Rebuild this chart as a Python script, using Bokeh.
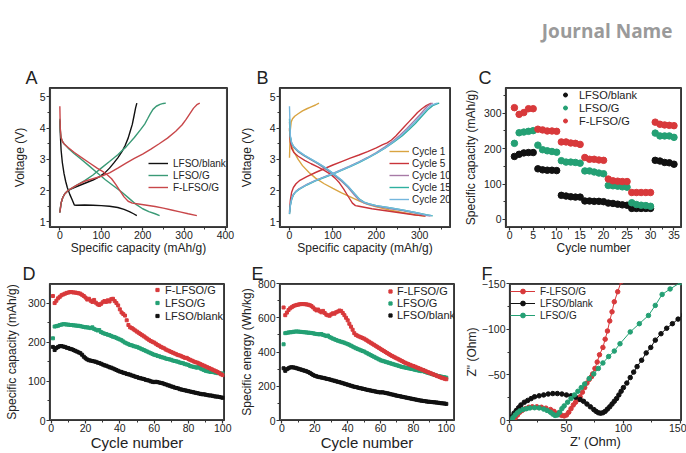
from bokeh.plotting import figure
from bokeh.layouts import column, row
from bokeh.models import Range1d, Legend, LegendItem, Label, FixedTicker
from bokeh.embed import file_html
from bokeh.resources import INLINE

# ---------------- DATA ----------------
# Panel A: charge / discharge profiles (capacity mAh/g, voltage V)
blank_dis_x = [0, 1, 3, 6, 10, 14, 18, 24, 30, 35, 40, 60, 80, 100, 120, 140, 155, 168, 178, 186]
blank_dis_y = [4.25, 3.85, 3.3, 2.9, 2.55, 2.3, 2.1, 1.88, 1.7, 1.54, 1.53, 1.54, 1.53, 1.52, 1.5, 1.46, 1.4, 1.33, 1.26, 1.2]
blank_chg_x = [0, 3, 7, 12, 18, 25, 35, 50, 65, 80, 95, 108, 120, 130, 140, 150, 158, 165, 170, 175, 179, 183, 186]
blank_chg_y = [1.3, 1.6, 1.78, 1.9, 1.98, 2.04, 2.1, 2.18, 2.26, 2.34, 2.44, 2.56, 2.72, 2.88, 3.05, 3.25, 3.45, 3.68, 3.9, 4.12, 4.38, 4.65, 4.8]
g_dis_x = [0, 1, 3, 6, 10, 20, 35, 50, 70, 90, 110, 130, 150, 170, 185, 200, 215, 230, 241]
g_dis_y = [4.3, 3.95, 3.7, 3.58, 3.5, 3.36, 3.18, 3.02, 2.8, 2.57, 2.35, 2.15, 1.95, 1.72, 1.55, 1.42, 1.33, 1.26, 1.2]
g_chg_x = [0, 3, 7, 12, 18, 25, 40, 60, 80, 100, 120, 140, 160, 180, 195, 205, 212, 218, 225, 233, 242, 250, 256]
g_chg_y = [1.3, 1.6, 1.78, 1.9, 1.98, 2.05, 2.17, 2.32, 2.5, 2.72, 2.93, 3.15, 3.4, 3.7, 3.95, 4.13, 4.3, 4.45, 4.6, 4.7, 4.76, 4.79, 4.8]
r_dis_x = [0, 1, 3, 6, 10, 20, 35, 50, 70, 90, 105, 115, 125, 135, 145, 155, 165, 175, 190, 210, 230, 250, 270, 290, 310, 331]
r_dis_y = [4.7, 4.0, 3.7, 3.58, 3.5, 3.38, 3.22, 3.08, 2.9, 2.72, 2.6, 2.5, 2.38, 2.2, 2.0, 1.8, 1.66, 1.6, 1.57, 1.53, 1.49, 1.44, 1.38, 1.32, 1.26, 1.2]
r_chg_x = [0, 3, 7, 12, 18, 25, 40, 60, 80, 100, 120, 140, 160, 180, 200, 220, 240, 260, 280, 295, 305, 315, 323, 331, 338]
r_chg_y = [1.3, 1.6, 1.78, 1.9, 1.98, 2.05, 2.17, 2.3, 2.38, 2.46, 2.57, 2.72, 2.88, 3.03, 3.17, 3.33, 3.5, 3.68, 3.9, 4.1, 4.28, 4.48, 4.64, 4.75, 4.8]

# Panel B: F-LFSO/G at different cycles
c1_chg_x = [0, 1, 2, 4, 7, 12, 20, 30, 40, 50, 60, 68]
c1_chg_y = [3.05, 3.5, 3.95, 4.2, 4.3, 4.38, 4.46, 4.55, 4.62, 4.68, 4.74, 4.8]
c1_dis_x = [0, 2, 5, 10, 20, 30, 45, 60, 80, 100, 120, 140, 160, 180, 200, 230, 260, 290, 312]
c1_dis_y = [3.95, 3.6, 3.42, 3.25, 3.0, 2.8, 2.58, 2.4, 2.22, 2.07, 1.93, 1.8, 1.67, 1.56, 1.48, 1.38, 1.3, 1.23, 1.18]
c5_dis_x = [0, 2, 5, 10, 20, 35, 50, 65, 80, 95, 105, 115, 125, 135, 145, 152, 160, 175, 190, 210, 230, 250, 270, 290, 305, 314]
c5_dis_y = [4.0, 3.55, 3.35, 3.22, 3.1, 2.97, 2.86, 2.76, 2.65, 2.52, 2.4, 2.25, 2.05, 1.82, 1.6, 1.52, 1.5, 1.46, 1.42, 1.38, 1.34, 1.3, 1.26, 1.22, 1.2, 1.19]
c5_chg_x = [0, 2, 5, 9, 15, 24, 40, 60, 80, 100, 120, 140, 160, 180, 200, 215, 225, 235, 245, 255, 265, 275, 285, 295, 305, 315, 322, 327]
c5_chg_y = [1.32, 1.7, 1.95, 2.1, 2.22, 2.33, 2.45, 2.58, 2.7, 2.82, 2.93, 3.04, 3.14, 3.25, 3.37, 3.47, 3.53, 3.62, 3.75, 3.9, 4.05, 4.2, 4.35, 4.5, 4.62, 4.72, 4.77, 4.8]
c10_dis_x = [0, 2, 5, 10, 20, 35, 50, 65, 80, 100, 120, 135, 150, 160, 170, 180, 200, 230, 260, 290, 310, 325]
c10_dis_y = [4.2, 3.7, 3.5, 3.38, 3.24, 3.1, 2.98, 2.86, 2.72, 2.52, 2.3, 2.1, 1.85, 1.7, 1.62, 1.57, 1.5, 1.43, 1.36, 1.28, 1.22, 1.19]
c10_chg_x = [0, 2, 5, 9, 14, 22, 40, 60, 80, 100, 120, 140, 160, 180, 200, 220, 240, 255, 270, 285, 300, 310, 318, 325, 330]
c10_chg_y = [1.27, 1.55, 1.75, 1.88, 1.97, 2.06, 2.2, 2.33, 2.44, 2.55, 2.67, 2.79, 2.92, 3.06, 3.22, 3.4, 3.6, 3.78, 3.98, 4.2, 4.42, 4.58, 4.7, 4.77, 4.8]
c15_dis_x = [0, 2, 5, 10, 20, 35, 50, 65, 80, 100, 120, 135, 150, 162, 172, 182, 200, 230, 260, 290, 315, 330]
c15_dis_y = [4.3, 3.72, 3.52, 3.4, 3.26, 3.12, 3.0, 2.88, 2.75, 2.55, 2.33, 2.13, 1.9, 1.72, 1.63, 1.58, 1.52, 1.45, 1.38, 1.3, 1.23, 1.19]
c15_chg_x = [0, 2, 5, 9, 14, 22, 40, 60, 80, 100, 120, 140, 160, 180, 200, 220, 240, 260, 275, 290, 305, 318, 330, 340, 345]
c15_chg_y = [1.25, 1.52, 1.72, 1.86, 1.95, 2.04, 2.18, 2.31, 2.42, 2.53, 2.65, 2.77, 2.9, 3.04, 3.19, 3.36, 3.55, 3.76, 3.95, 4.15, 4.38, 4.58, 4.72, 4.78, 4.8]
c20_dis_x = [0, 2, 5, 10, 20, 35, 50, 65, 80, 100, 120, 135, 150, 161, 171, 181, 200, 230, 260, 290, 312, 328]
c20_dis_y = [4.7, 3.75, 3.53, 3.41, 3.27, 3.13, 3.01, 2.89, 2.76, 2.56, 2.34, 2.14, 1.9, 1.72, 1.63, 1.58, 1.52, 1.45, 1.38, 1.3, 1.23, 1.2]
c20_chg_x = [0, 2, 5, 9, 14, 22, 40, 60, 80, 100, 120, 140, 160, 180, 200, 220, 240, 258, 273, 288, 303, 316, 327, 336, 341]
c20_chg_y = [1.26, 1.53, 1.73, 1.87, 1.96, 2.05, 2.19, 2.32, 2.43, 2.54, 2.66, 2.78, 2.91, 3.05, 3.2, 3.37, 3.57, 3.77, 3.97, 4.18, 4.4, 4.6, 4.73, 4.78, 4.8]

# Panel C: rate capability
rate_cycles = list(range(1, 36))
rate_blank = [178, 184, 188, 189, 189, 143, 140, 139, 139, 138, 68, 66, 64, 63, 63,
              52, 52, 51, 51, 50, 46, 45, 43, 41, 40, 31, 31, 31, 31, 31, 167, 165, 161, 160, 156]
rate_g = [215, 245, 247, 249, 251, 210, 197, 194, 192, 190, 166, 162, 162, 161, 159,
          137, 137, 134, 131, 129, 96, 95, 94, 92, 91, 47, 42, 40, 39, 37, 244, 236, 236, 236, 232]
rate_f = [316, 297, 302, 313, 313, 255, 253, 250, 250, 249, 219, 219, 216, 215, 212,
          175, 170, 170, 168, 167, 114, 109, 108, 107, 107, 76, 76, 76, 76, 76, 275, 269, 267, 266, 265]

# Panels D & E: long cycling
cycles = list(range(1, 101))
cap_f = [318, 300, 306, 312, 316, 320, 322, 324, 326, 327,
         328, 328, 327, 327, 326, 325, 324, 321, 318, 314,
         309, 311, 306, 303, 308, 301, 297, 295, 298, 302,
         305, 303, 307, 304, 310, 311, 305, 300, 294, 284,
         276, 272, 268, 256, 244, 238, 236, 233, 230, 227,
         224, 221, 218, 215, 212, 209, 206, 203, 201, 199,
         196, 193, 191, 188, 186, 184, 181, 179, 177, 175,
         173, 171, 169, 167, 166, 164, 162, 160, 160, 157,
         155, 153, 151, 149, 148, 146, 144, 142, 140, 138,
         136, 134, 132, 130, 128, 126, 124, 121, 118, 116]
cap_g = [210, 240, 241, 242, 244, 245, 246, 246, 245, 245,
         244, 244, 243, 243, 242, 242, 241, 240, 239, 238,
         238, 237, 236, 238, 234, 232, 230, 231, 226, 224,
         222, 221, 219, 218, 216, 214, 213, 211, 209, 207,
         205, 202, 199, 197, 195, 193, 192, 190, 189, 188,
         186, 184, 182, 180, 178, 176, 174, 172, 170, 168,
         167, 165, 164, 162, 161, 160, 158, 157, 156, 155,
         153, 152, 151, 150, 148, 147, 146, 144, 143, 142,
         139, 138, 137, 136, 135, 140, 133, 131, 129, 127,
         126, 125, 124, 124, 123, 122, 121, 121, 120, 120]
cap_b = [188, 180, 185, 188, 190, 190, 189, 188, 186, 185,
         183, 182, 180, 178, 176, 174, 172, 168, 163, 159,
         156, 154, 153, 152, 151, 150, 148, 147, 145, 143,
         141, 140, 138, 136, 135, 133, 131, 129, 127, 125,
         124, 122, 121, 119, 118, 117, 115, 114, 112, 111,
         109, 108, 107, 106, 104, 103, 102, 100, 99, 98,
         99, 98, 97, 96, 95, 93, 92, 90, 89, 87,
         86, 84, 83, 82, 80, 79, 78, 77, 76, 75,
         74, 73, 72, 71, 70, 69, 68, 67, 67, 66,
         65, 64, 64, 63, 62, 61, 61, 60, 59, 58]
en_f = [660, 615, 630, 645, 655, 662, 668, 672, 675, 677,
        679, 680, 680, 679, 678, 676, 673, 668, 660, 650,
        643, 648, 638, 632, 640, 628, 618, 614, 612, 620,
        626, 624, 632, 636, 642, 640, 628, 615, 600, 585,
        565, 548, 530, 510, 500, 495, 490, 486, 482, 478,
        472, 466, 460, 454, 448, 442, 436, 430, 424, 418,
        412, 406, 400, 394, 388, 382, 377, 372, 367, 362,
        357, 352, 347, 342, 337, 333, 329, 325, 321, 318,
        314, 310, 306, 302, 298, 294, 290, 286, 282, 278,
        274, 270, 266, 262, 258, 254, 250, 247, 244, 241]
en_g = [445, 510, 512, 514, 515, 516, 518, 519, 520, 519,
        518, 517, 516, 515, 514, 513, 512, 511, 509, 507,
        505, 504, 503, 505, 500, 497, 493, 496, 487, 483,
        478, 474, 470, 466, 463, 460, 457, 454, 450, 446,
        442, 437, 432, 427, 422, 418, 414, 410, 406, 403,
        397, 392, 387, 382, 377, 372, 367, 362, 357, 352,
        349, 346, 343, 340, 337, 334, 331, 328, 325, 322,
        319, 316, 313, 311, 309, 307, 305, 303, 301, 299,
        296, 294, 292, 290, 288, 293, 284, 281, 278, 275,
        272, 269, 266, 263, 260, 258, 256, 254, 252, 250]
en_b = [305, 290, 300, 305, 310, 311, 310, 308, 305, 302,
        299, 296, 293, 290, 287, 283, 278, 272, 266, 261,
        258, 255, 253, 251, 249, 247, 244, 242, 240, 237,
        234, 232, 229, 226, 224, 221, 218, 215, 212, 209,
        206, 203, 200, 197, 195, 193, 190, 188, 186, 184,
        181, 179, 177, 175, 173, 171, 169, 167, 165, 164,
        165, 163, 161, 159, 157, 154, 152, 150, 147, 145,
        143, 141, 139, 137, 135, 133, 131, 129, 127, 125,
        123, 121, 119, 117, 116, 114, 113, 111, 110, 109,
        108, 107, 106, 105, 104, 102, 101, 100, 99, 97]

# Panel F: Nyquist plots (Z' Ohm, Z'' Ohm)
nyq_f_re = [4, 5, 7, 9, 11, 14, 17, 20, 24, 28, 32, 36, 39, 42, 44, 46, 48, 50, 52, 54, 56, 58,
            60, 62, 64, 66, 68, 70, 72, 73, 75, 77, 79, 82, 84, 86, 88, 90, 92, 95, 98]
nyq_f_im = [0, -3, -6, -9, -11, -13, -14.5, -15, -15, -14.5, -13.5, -12, -10, -8, -6.5, -5.5, -5, -6, -9, -13, -17, -20,
            -23, -26, -31, -36, -41, -45, -48, -51, -57, -64, -72, -80, -89, -98, -109, -119, -130, -141, -152]
nyq_b_re = [1, 2, 4, 6, 8, 10, 13, 16, 19, 22, 26, 30, 34, 38, 42, 46, 50, 54, 58, 62, 65, 68, 71, 74, 76, 78,
            80, 82, 84, 86, 88, 90, 92, 94, 96, 98, 100, 103, 106, 109, 112, 116, 120, 124, 128, 133, 138, 143, 148, 153]
nyq_b_im = [0, -4, -8, -11, -14, -17, -20, -22, -24, -26, -27, -28, -29, -29.5, -29.5, -29, -28, -27, -25.5, -23, -21, -18,
            -15, -12, -10, -8.5, -8, -8.5, -10, -12.5, -15, -18, -21, -24, -28, -32, -36, -41, -47, -53, -59, -66,
            -74, -80, -88, -95, -101, -106, -111, -116]
nyq_g_re = [2, 3, 5, 7, 9, 12, 15, 18, 22, 26, 30, 33, 36, 38, 40, 42, 44, 46, 48, 51, 54, 57, 60, 63, 66, 70,
            74, 78, 82, 87, 92, 97, 106, 114, 122, 128, 134, 141, 150]
nyq_g_im = [0, -3, -6, -8.5, -10.5, -12, -13, -13.8, -14, -13.8, -12.5, -11, -9, -7, -5.5, -6, -9, -13, -16, -20, -24,
            -28, -32, -36, -40, -46, -51, -57, -63, -70, -76, -84, -97, -106, -115, -126, -138, -144, -151]

# ---------------- STYLE ----------------
FONT = "Liberation Sans"
BLACK = "#111111"
GREEN = "#24a074"
RED = "#d8393b"
LGREEN = "#3a9a76"
LRED = "#c8474a"
C1, C5, C10, C15, C20 = "#d9a441", "#c9343a", "#a77aa6", "#2fb0a0", "#74b6dd"
AXC = "#333333"


def make_fig(w, h, bl, br, bt, bb, xr, yr, letter, dx):
    p = figure(width=w, height=h, x_range=Range1d(*xr), y_range=Range1d(*yr),
               output_backend="svg", toolbar_location=None, title=letter,
               min_border_left=bl, min_border_right=br, min_border_top=bt, min_border_bottom=bb)
    p.title.align = "left"
    p.title.offset = dx
    p.title.standoff = 0
    p.title.text_font = FONT
    p.title.text_font_style = "normal"
    p.title.text_font_size = "18px"
    p.title.text_color = "#222222"
    p.xgrid.visible = False
    p.ygrid.visible = False
    p.outline_line_color = AXC
    p.outline_line_width = 1
    p.background_fill_color = "white"
    p.border_fill_color = "white"
    # frame box traced just inside the plotting area, derived from the axis ranges
    x0, x1 = p.x_range.start, p.x_range.end
    y0, y1 = p.y_range.start, p.y_range.end
    ex = (x1 - x0) * 0.005
    ey = (y1 - y0) * 0.006
    p.line([x0 + ex, x1 - ex, x1 - ex, x0 + ex, x0 + ex],
           [y0 + ey, y0 + ey, y1 - ey, y1 - ey, y0 + ey],
           line_color="#444444", line_width=1.3)
    for ax in (p.xaxis[0], p.yaxis[0]):
        ax.major_tick_in = 0
        ax.major_tick_out = 3
        ax.minor_tick_in = 0
        ax.minor_tick_out = 2
        ax.axis_line_color = AXC
        ax.axis_line_width = 1.2
        ax.major_tick_line_color = AXC
        ax.major_tick_line_width = 1.2
        ax.minor_tick_line_color = AXC
        ax.minor_tick_line_width = 1
        ax.major_label_text_font = FONT
        ax.major_label_text_font_size = "10.5px"
        ax.major_label_text_color = "#222222"
        ax.major_label_standoff = 1
        ax.axis_label_text_font = FONT
        ax.axis_label_text_font_style = "normal"
        ax.axis_label_text_color = "#222222"
        ax.axis_label_text_font_size = "12px"
        ax.axis_label_standoff = 1
    p.xaxis[0].major_label_standoff = 0
    p.xaxis[0].axis_label_standoff = -1
    return p


def ticks(p, xt, xm, yt, ym):
    p.xaxis[0].ticker = FixedTicker(ticks=xt, minor_ticks=xm)
    p.yaxis[0].ticker = FixedTicker(ticks=yt, minor_ticks=ym)


def legend(p, items, loc, fs, gw, rowh, standoff):
    lg = Legend(items=items, location=loc, padding=0, margin=0, spacing=0,
                glyph_width=gw, glyph_height=rowh, label_height=rowh,
                label_standoff=standoff, label_text_font=FONT, label_text_font_size=fs,
                label_text_color="#222222", border_line_alpha=0, background_fill_alpha=0)
    p.add_layout(lg)


# ---------------- TOP STRIP ----------------
top = figure(width=686, height=56, x_range=Range1d(0, 686), y_range=Range1d(0, 56),
             output_backend="svg", toolbar_location=None, x_axis_location=None, y_axis_location=None,
             min_border_left=0, min_border_right=0, min_border_top=0, min_border_bottom=0)
top.xgrid.visible = False
top.ygrid.visible = False
top.outline_line_color = None
top.add_layout(Label(x=672, y=26, text="Journal Name", text_font="Open Sans", text_font_style="bold",
                     text_font_size="19px", text_color="#9a9a9a", text_align="right",
                     text_baseline="alphabetic"))

# ---------------- PANEL A ----------------
pa = make_fig(236, 202, 49, 9, 30, 31, (-25, 405), (0.82, 5.3), "A", -24)
ticks(pa, [0, 100, 200, 300, 400], [50, 150, 250, 350], [1, 2, 3, 4, 5], [1.5, 2.5, 3.5, 4.5])
pa.xaxis[0].axis_label = "Specific capacity (mAh/g)"
pa.yaxis[0].axis_label = "Voltage (V)"
pa.yaxis[0].axis_label_standoff = 10
ra1 = pa.line(blank_chg_x, blank_chg_y, line_color=BLACK, line_width=1.4)
pa.line(blank_dis_x, blank_dis_y, line_color=BLACK, line_width=1.4)
ra2 = pa.line(g_chg_x, g_chg_y, line_color=LGREEN, line_width=1.4)
pa.line(g_dis_x, g_dis_y, line_color=LGREEN, line_width=1.4)
ra3 = pa.line(r_chg_x, r_chg_y, line_color=LRED, line_width=1.4)
pa.line(r_dis_x, r_dis_y, line_color=LRED, line_width=1.4)
legend(pa, [LegendItem(label="LFSO/blank", renderers=[ra1]),
            LegendItem(label="LFSO/G", renderers=[ra2]),
            LegendItem(label="F-LFSO/G", renderers=[ra3])], (99, 34), "10px", 20, 12, 5)

# ---------------- PANEL B ----------------
pb = make_fig(215, 202, 40, 1, 30, 31, (-23, 371), (0.82, 5.3), "B", -23)
ticks(pb, [0, 100, 200, 300], [50, 150, 250, 350], [1, 2, 3, 4, 5], [1.5, 2.5, 3.5, 4.5])
pb.xaxis[0].axis_label = "Specific capacity (mAh/g)"
pb.yaxis[0].axis_label = "Voltage (V)"
pb.yaxis[0].axis_label_standoff = 13
rb = []
for cx, cy, dx_, dy_, col in [(c1_chg_x, c1_chg_y, c1_dis_x, c1_dis_y, C1),
                              (c5_chg_x, c5_chg_y, c5_dis_x, c5_dis_y, C5),
                              (c10_chg_x, c10_chg_y, c10_dis_x, c10_dis_y, C10),
                              (c15_chg_x, c15_chg_y, c15_dis_x, c15_dis_y, C15),
                              (c20_chg_x, c20_chg_y, c20_dis_x, c20_dis_y, C20)]:
    r = pb.line(cx, cy, line_color=col, line_width=1.4)
    pb.line(dx_, dy_, line_color=col, line_width=1.4)
    rb.append(r)
legend(pb, [LegendItem(label=t, renderers=[r]) for t, r in
            zip(["Cycle 1", "Cycle 5", "Cycle 10", "Cycle 15", "Cycle 20"], rb)], (110, 22), "10px", 20, 12, 3)

# ---------------- PANEL C ----------------
pc = make_fig(235, 202, 54, 5, 31, 31, (-0.9, 36.6), (-23, 373), "C", -27)
ticks(pc, [0, 5, 10, 15, 20, 25, 30, 35], [2.5, 7.5, 12.5, 17.5, 22.5, 27.5, 32.5],
      [0, 100, 200, 300], [50, 150, 250, 350])
pc.xaxis[0].axis_label = "Cycle number"
pc.yaxis[0].axis_label = "Specific capacity (mAh/g)"
pc.yaxis[0].axis_label_standoff = 3
rc1 = pc.scatter(rate_cycles, rate_blank, size=6.5, color=BLACK)
rc2 = pc.scatter(rate_cycles, rate_g, size=6.5, color=GREEN)
rc3 = pc.scatter(rate_cycles, rate_f, size=6.5, color=RED)
legend(pc, [LegendItem(label="LFSO/blank", renderers=[rc1]),
            LegendItem(label="LFSO/G", renderers=[rc2]),
            LegendItem(label="F-LFSO/G", renderers=[rc3])], (55, 100), "11px", 10, 13, 9)

# ---------------- PANEL D ----------------
pd_ = make_fig(236, 195, 49, 12, 23, 32, (-1, 101), (0, 350), "D", -27)
ticks(pd_, [0, 20, 40, 60, 80, 100], [10, 30, 50, 70, 90], [0, 100, 200, 300], [50, 150, 250])
pd_.xaxis[0].axis_label = "Cycle number"
pd_.xaxis[0].axis_label_text_font_size = "15px"
pd_.yaxis[0].axis_label = "Specific capacity (mAh/g)"
pd_.yaxis[0].axis_label_standoff = 6
rd3 = pd_.scatter(cycles, cap_b, marker="square", size=3, color=BLACK)
rd2 = pd_.scatter(cycles, cap_g, marker="square", size=3, color=GREEN)
rd1 = pd_.scatter(cycles, cap_f, marker="square", size=3, color=RED)
legend(pd_, [LegendItem(label="F-LFSO/G", renderers=[rd1]),
             LegendItem(label="LFSO/G", renderers=[rd2]),
             LegendItem(label="LFSO/blank", renderers=[rd3])], (104, 98), "11px", 8, 13, 4)

# ---------------- PANEL E ----------------
pe = make_fig(225, 195, 39, 7, 24, 30, (-1.5, 105), (0, 800), "E", -28)
ticks(pe, [0, 20, 40, 60, 80, 100], [10, 30, 50, 70, 90], [0, 200, 400, 600, 800], [100, 300, 500, 700])
pe.xaxis[0].axis_label = "Cycle number"
pe.xaxis[0].axis_label_text_font_size = "15px"
pe.yaxis[0].axis_label = "Specific energy (Wh/kg)"
pe.yaxis[0].axis_label_standoff = 1
re3 = pe.scatter(cycles, en_b, marker="square", size=3, color=BLACK)
re2 = pe.scatter(cycles, en_g, marker="square", size=3, color=GREEN)
re1 = pe.scatter(cycles, en_f, marker="square", size=3, color=RED)
legend(pe, [LegendItem(label="F-LFSO/G", renderers=[re1]),
            LegendItem(label="LFSO/G", renderers=[re2]),
            LegendItem(label="LFSO/blank", renderers=[re3])], (107, 99), "11px", 8, 12, 3)

# ---------------- PANEL F ----------------
pf = make_fig(225, 195, 44, 5, 25, 31, (0, 151), (0, -150), "F", -28)
ticks(pf, [0, 50, 100, 150], [25, 75, 125], [0, -50, -100, -150], [-25, -75, -125])
pf.xaxis[0].axis_label = "Z' (Ohm)"
pf.xaxis[0].axis_label_text_font_size = "13px"
pf.yaxis[0].axis_label = 'Z" (Ohm)'
pf.yaxis[0].axis_label_standoff = 0
lf1 = pf.line(nyq_f_re, nyq_f_im, line_color=RED, line_width=1)
sf1 = pf.scatter(nyq_f_re, nyq_f_im, size=4.5, color=RED)
lf2 = pf.line(nyq_b_re, nyq_b_im, line_color=BLACK, line_width=1)
sf2 = pf.scatter(nyq_b_re, nyq_b_im, size=4.5, color=BLACK)
lf3 = pf.line(nyq_g_re, nyq_g_im, line_color=GREEN, line_width=1)
sf3 = pf.scatter(nyq_g_re, nyq_g_im, size=4.5, color=GREEN)
legend(pf, [LegendItem(label="F-LFSO/G", renderers=[lf1, sf1]),
            LegendItem(label="LFSO/blank", renderers=[lf2, sf2]),
            LegendItem(label="LFSO/G", renderers=[lf3, sf3])], (1, 99), "10px", 25, 12, 5)

layout_all = column(top, row(pa, pb, pc), row(pd_, pe, pf))
open("out.html", "w").write(file_html(layout_all, INLINE))
